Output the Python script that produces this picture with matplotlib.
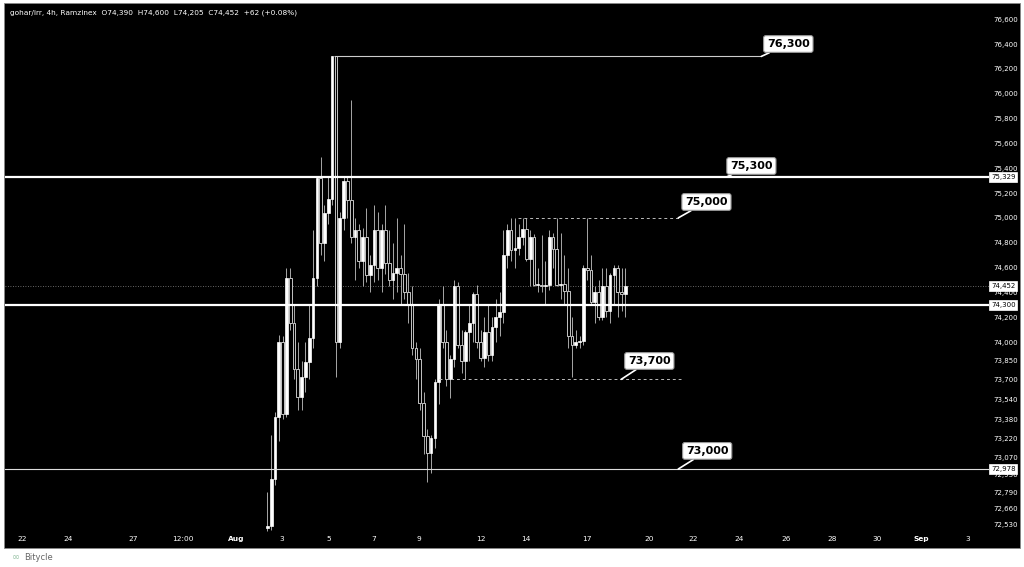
import numpy as np
import matplotlib.pyplot as plt
from matplotlib.patches import Rectangle

# 4h candles, gohar/irr (Ramzinex)
opens = [72500, 72520, 72900, 73400, 74000, 73420, 74520, 74150, 73780, 73560,
         73720, 73840, 74030, 74520, 75320, 74800, 75040, 75150, 76300, 74000,
         75000, 75300, 75140, 74850, 74900, 74650, 74850, 74540, 74620, 74900,
         74600, 74900, 74640, 74500, 74560, 74600, 74550, 74400, 74300, 73950,
         73860, 73510, 73240, 73110, 73230, 73680, 74300, 74000, 73700, 73860,
         74450, 73980, 73850, 74080, 74150, 74390, 74000, 73870, 74080, 73900,
         74120, 74200, 74240, 74700, 74900, 74740, 74760, 74850, 74910, 74670,
         74850, 74460, 74460, 74450, 74460, 74850, 74750, 74460, 74470, 74410,
         74050, 73980, 74000, 74010, 74600, 74580, 74320, 74400, 74200, 74450,
         74250, 74540, 74600, 74400, 74390]
highs = [72790, 73250, 73440, 74060, 74050, 74600, 74600, 74300, 74000, 73850,
         74000, 74300, 74900, 75330, 75490, 75100, 75330, 76300, 76300, 75050,
         75330, 75330, 75950, 75000, 74950, 74920, 75080, 74700, 75100, 75050,
         74950, 75100, 74900, 74800, 75000, 74700, 74950, 74560, 74450, 74000,
         73950, 73600, 73300, 73250, 73700, 74350, 74450, 74100, 73900, 74500,
         74480, 74100, 74100, 74300, 74400, 74460, 74100, 74200, 74300, 74200,
         74350, 74400, 74900, 74950, 75000, 75000, 74950, 75000, 75000, 74900,
         74870, 74600, 74860, 74650, 74900, 74880, 75000, 74880, 74700, 74600,
         74200, 74100, 74050, 74620, 75000, 74700, 74450, 74500, 74600, 74600,
         74560, 74620, 74620, 74600, 74600]
lows = [72480, 72490, 72850, 73200, 73380, 73400, 74100, 73700, 73450, 73450,
        73600, 73700, 73950, 74450, 74700, 74650, 74950, 75100, 73720, 73950,
        74900, 75000, 74800, 74500, 74600, 74450, 74480, 74400, 74480, 74500,
        74400, 74550, 74450, 74350, 74400, 74300, 74350, 74150, 73900, 73700,
        73450, 73100, 72870, 72950, 73150, 73500, 73950, 73650, 73550, 73800,
        73950, 73750, 73700, 73850, 74000, 73950, 73850, 73800, 73850, 73850,
        74000, 74050, 74150, 74600, 74650, 74600, 74700, 74780, 74650, 74450,
        74450, 74400, 74400, 74300, 74420, 74600, 74450, 74350, 74300, 73950,
        73720, 73950, 73950, 73980, 74500, 74300, 74150, 74180, 74180, 74200,
        74150, 74300, 74200, 74250, 74205]
closes = [72520, 72900, 73400, 74000, 73420, 74520, 74150, 73780, 73560, 73720,
          73840, 74030, 74520, 75320, 74800, 75040, 75150, 76300, 74000, 75000,
          75300, 75140, 74850, 74900, 74650, 74850, 74540, 74620, 74900, 74600,
          74900, 74640, 74500, 74560, 74600, 74550, 74400, 74300, 73950, 73860,
          73510, 73240, 73110, 73230, 73680, 74300, 74000, 73700, 73860, 74450,
          73980, 73850, 74080, 74150, 74390, 74000, 73870, 74080, 73900, 74120,
          74200, 74240, 74700, 74900, 74740, 74760, 74850, 74910, 74670, 74850,
          74460, 74460, 74450, 74460, 74850, 74750, 74460, 74470, 74410, 74050,
          73980, 74000, 74010, 74600, 74580, 74320, 74400, 74200, 74450, 74250,
          74540, 74600, 74400, 74390, 74452]

xtick_labels = ['22', '24', '27', '12:00', 'Aug', '3', '5', '7', '9', '12', '14',
                '17', '20', '22', '24', '26', '28', '30', 'Sep', '3']
xtick_pos = [-64.5, -52.4, -35.3, -22.1, -8.2, 3.9, 16.1, 27.9, 39.7, 56.1, 67.9,
             83.9, 100.3, 111.8, 123.9, 136.1, 148.2, 160.0, 171.8, 183.9]

ytick_vals = [76600, 76400, 76200, 76000, 75800, 75600, 75400, 75200, 75000, 74800,
              74600, 74400, 74200, 74000, 73850, 73700, 73540, 73380, 73220, 73070,
              72930, 72790, 72660, 72530]
price_marks = [75329, 74452, 74300, 72978]

levels = ['76,300', '75,300', '75,000', '73,700', '73,000']
level_anchor = [(129.7, 76300), (120.5, 75329), (107.9, 75000), (92.9, 73700), (107.9, 72978)]
level_box = [(136.8, 76400), (127.1, 75418), (115.3, 75128), (100.3, 73848), (115.5, 73124)]

fig = plt.figure(figsize=(10.24, 5.67), dpi=100, facecolor='white')
W, H = 1024, 567
fig.patches.append(Rectangle((4 / W, (H - 548) / H), 1016 / W, 545 / H,
                             transform=fig.transFigure, facecolor='black',
                             edgecolor='#888888', linewidth=0.6, zorder=-10))

ax = fig.add_axes([5 / W, (H - 532) / H, 984 / W, 527 / H])
ax.set_zorder(1)
ax.set_facecolor('black')
for s in ax.spines.values():
    s.set_visible(False)

x = np.arange(len(closes))
o = np.array(opens); c = np.array(closes)
up = c >= o
bottom = np.minimum(o, c)
height = np.maximum(np.abs(c - o), 8)

ax.vlines(x, lows, highs, color='#a8a8a8', linewidth=0.7, zorder=2)
ax.bar(x[up], height[up], bottom=bottom[up], width=0.72, color='white',
       edgecolor='white', linewidth=0.5, zorder=3)
ax.bar(x[~up], height[~up], bottom=bottom[~up], width=0.72, color='black',
       edgecolor='#c4c4c4', linewidth=0.7, zorder=3)

# horizontal levels
ax.axhline(75329, color='white', linewidth=1.6, zorder=4)
ax.axhline(74300, color='white', linewidth=1.6, zorder=4)
ax.axhline(72978, color='#dddddd', linewidth=0.8, zorder=4)
ax.axhline(74452, color='#888888', linewidth=0.6, linestyle=(0, (1, 2)), zorder=1)
ax.hlines(76300, 17.4, 129.7, color='#cccccc', linewidth=0.8, zorder=4)
ax.hlines(75000, 65.8, 108.7, color='#bbbbbb', linewidth=0.7, linestyle=(0, (3, 3)), zorder=4)
ax.hlines(73700, 45.0, 108.7, color='#bbbbbb', linewidth=0.7, linestyle=(0, (3, 3)), zorder=4)

for txt, a, b in zip(levels, level_anchor, level_box):
    ax.annotate(txt, xy=a, xytext=b, ha='center', va='center', fontsize=8,
                fontweight='bold', color='black', zorder=6,
                bbox=dict(boxstyle='round,pad=0.3,rounding_size=0.2', fc='white',
                          ec='#999999', lw=0.8),
                arrowprops=dict(arrowstyle='-', color='white', lw=1.2,
                                shrinkA=0, shrinkB=0))

ax.set_xlim(-68.9, 189.5)
ax.set_ylim(72471, 76714)

ax.set_xticks(xtick_pos)
ax.set_xticklabels(xtick_labels)
ax.tick_params(axis='x', length=0, pad=3, labelsize=5.3, labelcolor='white')
ax.yaxis.tick_right()
ax.set_yticks(ytick_vals)
ax.set_yticklabels([f'{v:,}' for v in ytick_vals])
ax.tick_params(axis='y', length=0, pad=3, labelsize=5, labelcolor='white')
for lab in ax.get_xticklabels():
    if lab.get_text() in ('Aug', 'Sep'):
        lab.set_fontweight('bold')

# price boxes on the scale
for v in price_marks:
    ax.text(1.0 + 2 / 984, v, f'{v:,}', transform=ax.get_yaxis_transform(),
            ha='left', va='center', fontsize=5, color='black', zorder=7,
            clip_on=False,
            bbox=dict(boxstyle='square,pad=0.25', fc='white', ec='white', lw=0.5))

fig.text(10 / W, 1 - 13 / H,
         'gohar/irr, 4h, Ramzinex  O74,390  H74,600  L74,205  C74,452  +62 (+0.08%)',
         fontsize=5.3, color='white', ha='left', va='center')
fig.text(12 / W, 1 - 557 / H, '∞', fontsize=7, color='#9bc4a8', ha='left', va='center')
fig.text(24 / W, 1 - 557 / H, 'Bitycle', fontsize=6, color='#666666', ha='left', va='center')

fig.savefig('out.png', dpi=100, facecolor='white')
